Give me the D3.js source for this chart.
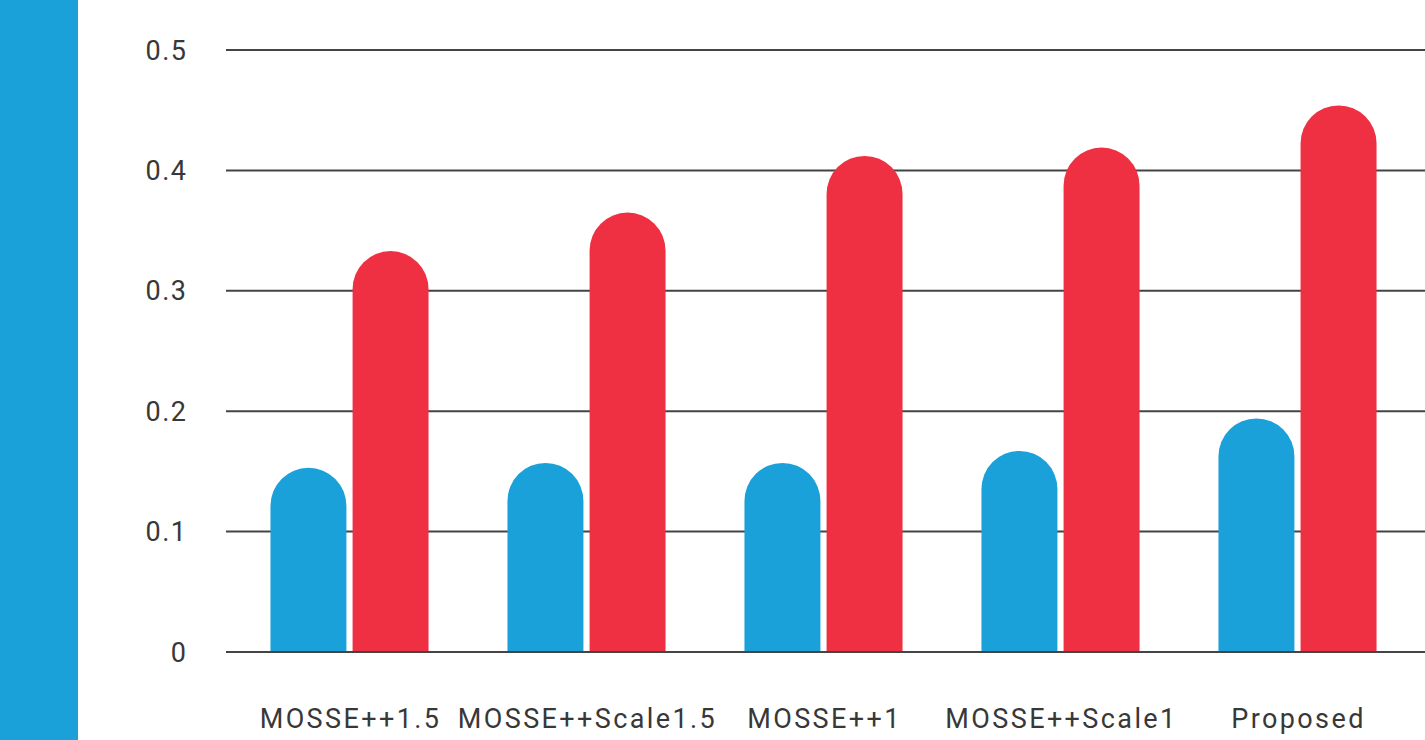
<!DOCTYPE html>
<html>
<head>
<meta charset="utf-8">
<script src="https://cdn.jsdelivr.net/npm/d3@7"></script>
<style>
  body { margin: 0; background: #fff; }
  svg { display: block; }
  text { font-family: "Roboto", "Noto Sans", sans-serif; fill: #383838; }
</style>
</head>
<body>
<svg id="chart" width="1425" height="740"></svg>
<script>
const categories = ["MOSSE++1.5", "MOSSE++Scale1.5", "MOSSE++1", "MOSSE++Scale1", "Proposed"];
const seriesA = [0.153, 0.157, 0.157, 0.167, 0.194];
const seriesB = [0.333, 0.365, 0.412, 0.419, 0.454];
const yTicks = [0, 0.1, 0.2, 0.3, 0.4, 0.5];

const blue = "#1aa1d9";
const red = "#ef3042";

const svg = d3.select("#chart");
const width = 1425;
const height = 740;

// side strip
svg.append("rect").attr("x", 0).attr("y", 0).attr("width", 78).attr("height", height).attr("fill", blue);

const y = d3.scaleLinear().domain([0, 0.5]).range([652, 50]);
const x0 = d3.scaleBand().domain(categories).range([231, 1416]).paddingInner(0.333).paddingOuter(0.1665);
const x1 = d3.scaleBand().domain(["a", "b"]).range([0, x0.bandwidth()]).paddingInner(0.075);

// grid lines
svg.append("g")
    .selectAll("line")
    .data(yTicks)
    .enter().append("line")
    .attr("x1", 226)
    .attr("x2", width)
    .attr("y1", d => y(d))
    .attr("y2", d => y(d))
    .attr("stroke", "#444")
    .attr("stroke-width", 2);

// tick labels
svg.append("g")
    .selectAll("text")
    .data(yTicks)
    .enter().append("text")
    .attr("x", 187.5)
    .attr("y", d => y(d) + 9.5)
    .attr("text-anchor", "end")
    .attr("font-size", 27)
    .attr("letter-spacing", 1.5)
    .text(d => d === 0 ? "0" : d3.format(".1f")(d));

// bar with rounded top, cap reaches the value
function roundBar(xl, w, v) {
    const r = w / 2;
    const top = y(v);
    const base = y(0);
    return "M" + xl + "," + base +
        "L" + xl + "," + (top + r) +
        "A" + r + "," + r + " 0 0 1 " + (xl + w) + "," + (top + r) +
        "L" + (xl + w) + "," + base + "Z";
}

const rows = categories.map((c, i) => ({ cat: c, a: seriesA[i], b: seriesB[i] }));

const groups = svg.append("g")
    .selectAll("g")
    .data(rows)
    .enter().append("g")
    .attr("transform", d => "translate(" + x0(d.cat) + ",0)");

groups.append("path")
    .attr("fill", blue)
    .attr("d", d => roundBar(x1("a"), x1.bandwidth(), d.a));

groups.append("path")
    .attr("fill", red)
    .attr("d", d => roundBar(x1("b"), x1.bandwidth(), d.b));

// baseline on top
svg.append("line")
    .attr("x1", 226).attr("x2", width)
    .attr("y1", y(0)).attr("y2", y(0))
    .attr("stroke", "#444").attr("stroke-width", 2);

// category labels
svg.append("g")
    .selectAll("text")
    .data(categories)
    .enter().append("text")
    .attr("x", d => x0(d) + x0.bandwidth() / 2 + 1)
    .attr("y", 728)
    .attr("text-anchor", "middle")
    .attr("font-size", 27)
    .attr("letter-spacing", 2.4)
    .text(d => d);
</script>
</body>
</html>
